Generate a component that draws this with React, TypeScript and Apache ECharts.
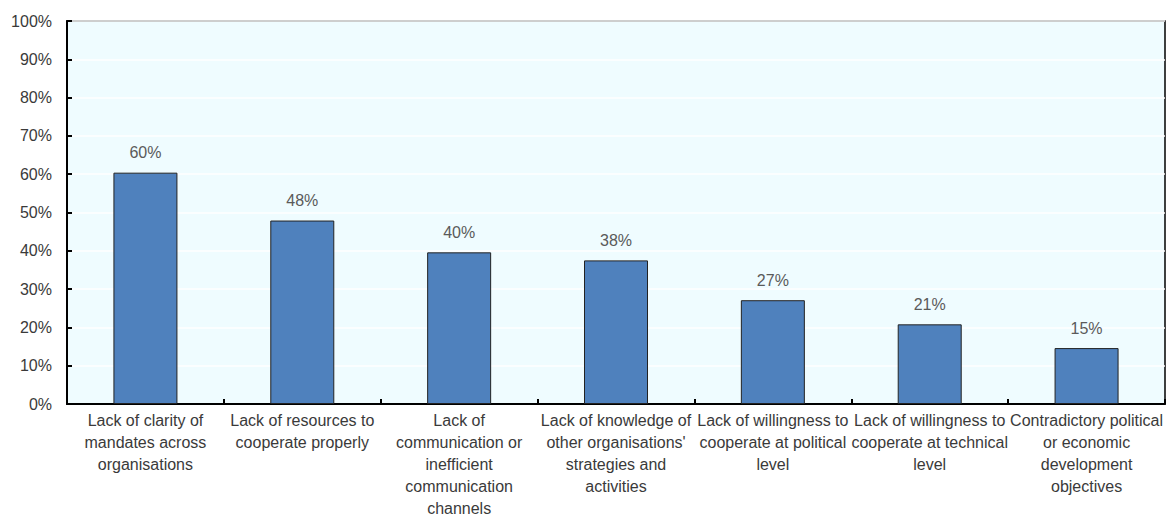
import React, { useEffect, useRef } from "react";
import * as echarts from "echarts";

const categories = [
  "Lack of clarity of\nmandates across\norganisations",
  "Lack of resources to\ncooperate properly",
  "Lack of\ncommunication or\ninefficient\ncommunication\nchannels",
  "Lack of knowledge of\nother organisations'\nstrategies and\nactivities",
  "Lack of willingness to\ncooperate at political\nlevel",
  "Lack of willingness to\ncooperate at technical\nlevel",
  "Contradictory political\nor economic\ndevelopment\nobjectives",
];

const values = [60.4, 47.9, 39.6, 37.5, 27.1, 20.8, 14.6];

const FONT = "'Liberation Sans', Arial, sans-serif";

export default function App() {
  const ref = useRef<HTMLDivElement>(null);
  useEffect(() => {
    if (!ref.current) return;
    const chart = echarts.init(ref.current, undefined, { renderer: "svg" });
    chart.setOption({
      animation: false,
      textStyle: { fontFamily: FONT },
      grid: {
        left: 67,
        right: 7,
        top: 21,
        bottom: 115,
        containLabel: false,
        outerBoundsMode: "none",
        show: true,
        backgroundColor: "#effcff",
        borderColor: "#000",
        borderWidth: 1.5,
      },
      xAxis: {
        type: "category",
        data: categories,
        boundaryGap: true,
        axisLine: { show: true, lineStyle: { color: "#000", width: 2 } },
        axisTick: { show: true, inside: true, length: 5, alignWithLabel: false, lineStyle: { color: "#000", width: 2 } },
        axisLabel: {
          interval: 0,
          margin: 5,
          color: "#3a3a3a",
          fontSize: 16,
          lineHeight: 22,
          fontFamily: FONT,
        },
        splitLine: { show: false },
      },
      yAxis: {
        type: "value",
        min: 0,
        max: 100,
        interval: 10,
        axisLine: { show: true, lineStyle: { color: "#000", width: 2 } },
        axisTick: { show: true, inside: true, length: 5, lineStyle: { color: "#000", width: 2 } },
        axisLabel: {
          formatter: "{value}%",
          margin: 15,
          color: "#3a3a3a",
          fontSize: 16,
          fontFamily: FONT,
        },
        splitLine: { show: true, lineStyle: { color: "#ffffff", width: 1.5 } },
      },
      series: [
        {
          type: "bar",
          data: values,
          barWidth: 64,
          itemStyle: { color: "#4f81bd", borderColor: "#222", borderWidth: 1 },
          label: {
            show: true,
            position: "top",
            distance: 12,
            color: "#5a5a5a",
            fontSize: 16,
            fontFamily: FONT,
            formatter: (p: any) => Math.round(p.value) + "%",
          },
        },
      ],
    });
    return () => chart.dispose();
  }, []);
  return (
    <div
      ref={ref}
      style={{ position: "fixed", left: 0, top: 0, width: 1172, height: 519, background: "#fff" }}
    />
  );
}
